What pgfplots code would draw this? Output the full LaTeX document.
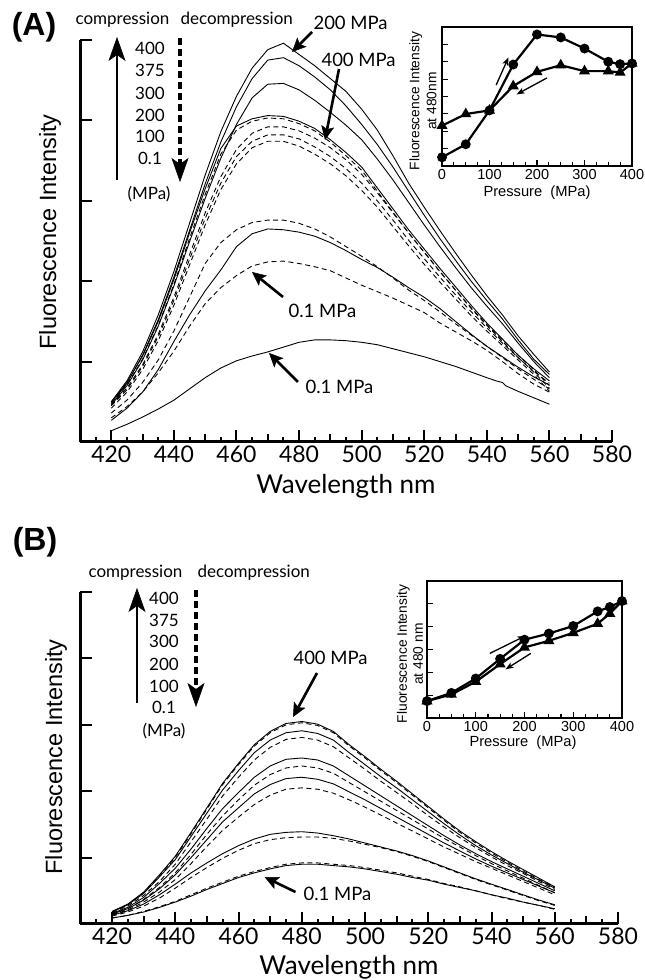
\documentclass[border=0pt]{standalone}
\usepackage{fontspec}
\setmainfont{Lato}
\newfontfamily\hv{Liberation Sans}
\usepackage{pgfplots}
\pgfplotsset{compat=1.18}
\usepackage{pgfplotstable}
\usetikzlibrary{arrows.meta}

\pgfplotstableread{
nm  S1   S2   S3   S4   S5   D1   D2   D3   D4   D5   D6
420 0.50 0.48 0.46 0.50 0.27 0.48 0.46 0.45 0.42 0.36 0.30
425 0.76 0.73 0.70 0.74 0.42 0.71 0.67 0.65 0.62 0.52 0.44
430 1.12 1.08 1.02 1.07 0.62 1.03 0.96 0.94 0.90 0.74 0.62
435 1.58 1.52 1.44 1.50 0.90 1.45 1.34 1.31 1.26 1.02 0.86
440 2.12 2.05 1.94 2.02 1.25 1.96 1.80 1.76 1.70 1.38 1.13
445 2.72 2.63 2.49 2.60 1.58 2.53 2.33 2.27 2.20 1.80 1.44
450 3.32 3.21 3.03 3.15 1.88 3.08 2.85 2.78 2.70 2.22 1.72
455 3.86 3.73 3.53 3.65 2.14 3.58 3.30 3.22 3.14 2.48 1.92
460 4.30 4.17 3.95 3.93 2.43 3.88 3.64 3.55 3.46 2.64 2.07
465 4.65 4.52 4.28 4.02 2.59 3.99 3.84 3.74 3.66 2.73 2.19
470 4.88 4.75 4.45 4.06 2.65 4.03 3.92 3.82 3.74 2.76 2.24
475 4.96 4.78 4.46 4.05 2.64 4.02 3.92 3.82 3.74 2.76 2.25
480 4.82 4.68 4.38 3.99 2.61 3.96 3.87 3.77 3.68 2.72 2.22
485 4.68 4.54 4.25 3.90 2.56 3.87 3.78 3.67 3.58 2.65 2.18
490 4.52 4.38 4.10 3.76 2.48 3.73 3.66 3.55 3.46 2.55 2.13
495 4.36 4.18 3.94 3.60 2.38 3.56 3.51 3.40 3.31 2.43 2.04
500 4.14 3.95 3.76 3.42 2.27 3.38 3.33 3.22 3.13 2.31 1.95
505 3.88 3.70 3.52 3.16 2.17 3.12 3.10 3.00 2.92 2.18 1.87
510 3.56 3.42 3.26 2.90 2.05 2.86 2.85 2.76 2.68 2.04 1.79
515 3.22 3.12 2.98 2.64 1.92 2.60 2.60 2.51 2.44 1.89 1.70
520 2.92 2.82 2.70 2.40 1.80 2.36 2.36 2.28 2.21 1.76 1.61
525 2.63 2.53 2.43 2.16 1.66 2.12 2.12 2.05 1.99 1.62 1.48
530 2.35 2.26 2.17 1.93 1.50 1.89 1.89 1.83 1.78 1.47 1.37
535 2.08 2.00 1.92 1.70 1.34 1.66 1.67 1.62 1.57 1.33 1.26
540 1.82 1.76 1.69 1.48 1.19 1.45 1.46 1.42 1.38 1.19 1.14
545 1.58 1.53 1.47 1.28 1.06 1.25 1.27 1.23 1.20 1.05 1.00
550 1.32 1.27 1.23 1.08 0.93 1.05 1.08 1.05 1.02 0.91 0.85
555 1.09 1.03 1.00 0.91 0.81 0.88 0.90 0.87 0.84 0.78 0.72
560 0.87 0.84 0.80 0.76 0.71 0.73 0.70 0.67 0.63 0.66 0.62
}\tabA

\pgfplotstableread{
nm  S6
420 0.14
425 0.22
430 0.31
435 0.41
440 0.52
445 0.66
450 0.80
455 0.92
460 1.01
465 1.07
470 1.12
475 1.18
480 1.24
485 1.27
490 1.27
495 1.26
500 1.24
505 1.21
510 1.16
515 1.11
520 1.06
525 1.00
530 0.94
535 0.87
540 0.80
543 0.76
545 0.74
546 0.70
550 0.63
555 0.55
560 0.47
}\tabAlow

\pgfplotstableread{
nm  S400 S375 S300 S200 S100 S01  D400 D375 D300 D200 D100 D01
420 0.19 0.18 0.16 0.15 0.13 0.09 0.18 0.17 0.15 0.14 0.12 0.09
425 0.30 0.29 0.25 0.23 0.20 0.13 0.29 0.27 0.23 0.21 0.18 0.13
430 0.48 0.46 0.40 0.36 0.30 0.18 0.47 0.43 0.37 0.33 0.27 0.19
435 0.74 0.71 0.61 0.53 0.44 0.25 0.72 0.64 0.55 0.48 0.39 0.26
440 1.02 0.97 0.84 0.74 0.60 0.33 1.00 0.90 0.77 0.67 0.54 0.34
445 1.38 1.32 1.13 1.00 0.77 0.42 1.36 1.24 1.05 0.91 0.70 0.44
450 1.75 1.67 1.44 1.27 0.92 0.52 1.73 1.58 1.35 1.17 0.85 0.54
455 2.12 2.02 1.74 1.54 1.06 0.61 2.10 1.93 1.63 1.41 0.99 0.63
460 2.42 2.31 1.98 1.75 1.18 0.70 2.40 2.21 1.87 1.61 1.11 0.72
465 2.70 2.58 2.21 1.96 1.28 0.77 2.68 2.47 2.09 1.80 1.21 0.79
470 2.90 2.77 2.38 2.10 1.35 0.83 2.88 2.66 2.25 1.94 1.27 0.85
475 3.02 2.88 2.48 2.19 1.38 0.88 3.00 2.78 2.35 2.03 1.30 0.90
480 3.05 2.91 2.50 2.21 1.39 0.90 3.03 2.81 2.38 2.05 1.31 0.92
485 3.01 2.87 2.47 2.18 1.37 0.90 2.99 2.77 2.35 2.03 1.31 0.92
490 2.90 2.77 2.38 2.11 1.33 0.88 2.88 2.67 2.27 1.97 1.29 0.90
495 2.70 2.58 2.23 1.99 1.28 0.86 2.68 2.50 2.13 1.87 1.25 0.88
500 2.52 2.40 2.08 1.87 1.22 0.83 2.50 2.33 1.99 1.76 1.20 0.85
505 2.33 2.22 1.93 1.74 1.16 0.79 2.31 2.15 1.85 1.64 1.15 0.81
510 2.15 2.05 1.78 1.61 1.10 0.75 2.13 1.98 1.71 1.52 1.09 0.77
515 1.96 1.87 1.63 1.48 1.03 0.70 1.94 1.81 1.57 1.40 1.02 0.72
520 1.77 1.69 1.48 1.35 0.95 0.66 1.75 1.63 1.43 1.28 0.94 0.67
525 1.58 1.51 1.33 1.22 0.86 0.60 1.56 1.46 1.29 1.16 0.85 0.61
530 1.40 1.34 1.19 1.10 0.77 0.55 1.38 1.30 1.16 1.05 0.76 0.56
535 1.24 1.18 1.06 0.98 0.68 0.50 1.22 1.15 1.03 0.94 0.67 0.50
540 1.09 1.04 0.94 0.87 0.60 0.44 1.07 1.01 0.91 0.84 0.59 0.44
545 0.95 0.91 0.83 0.77 0.52 0.39 0.93 0.88 0.80 0.74 0.51 0.38
550 0.82 0.78 0.72 0.67 0.44 0.33 0.80 0.76 0.69 0.64 0.43 0.33
555 0.69 0.66 0.61 0.57 0.36 0.28 0.67 0.64 0.58 0.54 0.35 0.28
560 0.56 0.54 0.50 0.47 0.29 0.23 0.55 0.52 0.47 0.44 0.28 0.22
}\tabB

\pgfplotstableread{
p   circ tri
0   0.50 2.32
50  1.25 2.99
100 3.20 3.20
150 5.84 4.60
200 7.57 5.42
250 7.40 5.80
300 6.76 5.46
350 6.00 5.46
375 5.86 5.38
400 5.90 5.90
}\insA

\pgfplotstableread{
p   circ tri
0   0.74 0.74
50  1.10 1.03
100 1.73 1.59
150 2.59 2.36
200 3.43 3.09
250 3.70 3.38
300 4.03 3.73
350 4.67 4.13
375 4.86 4.57
400 5.12 5.12
}\insB

\pgfplotsset{
  mainax/.style={
    scale only axis, clip=false,
    axis lines*=left,
    xmin=410, xmax=580, ymin=0, ymax=5,
    xtick={420,440,...,580},
    minor xtick={415,425,...,575},
    extra x ticks={430,450,...,570},
    extra x tick labels={},
    extra x tick style={major tick length=8pt},
    ytick={1,2,3,4,5}, yticklabels={},
    tick align=inside,
    major tick length=12pt, minor tick length=5pt,
    axis line style={line width=3pt},
    every tick/.append style={black, line width=2pt},
    xticklabel style={font=\fontsize{23}{26}\selectfont},
    /pgf/number format/assume math mode=true,
    /pgf/number format/1000 sep={},
  },
  inset/.style={
    scale only axis,
    xmin=0, xmax=400,
    xtick={0,100,...,400}, minor x tick num=3,
    xtick pos=left, ytick pos=left,
    yticklabels={},
    tick align=inside,
    major tick length=6pt, minor tick length=4pt,
    axis line style={line width=1.5pt},
    every tick/.append style={black, line width=1.2pt},
    xticklabel style={font=\hv\fontsize{14.5}{17}\selectfont},
    /pgf/number format/assume math mode=true,
  },
  cs/.style={black, line width=0.9pt},
  cd/.style={black, line width=0.9pt, dash pattern=on 5pt off 3.5pt},
}

\begin{document}
\begin{tikzpicture}[x=1pt,y=1pt]

% ---------------- Panel A ----------------
\begin{axis}[mainax, at={(80pt,538pt)}, anchor=south west, width=532pt, height=402pt]
\addplot[cs] table[x=nm,y=S1]{\tabA};
\addplot[cs] table[x=nm,y=S2]{\tabA};
\addplot[cs] table[x=nm,y=S3]{\tabA};
\addplot[cs] table[x=nm,y=S4]{\tabA};
\addplot[cs] table[x=nm,y=S5]{\tabA};
\addplot[cs] table[x=nm,y=S6]{\tabAlow};
\addplot[cd] table[x=nm,y=D1]{\tabA};
\addplot[cd] table[x=nm,y=D2]{\tabA};
\addplot[cd] table[x=nm,y=D3]{\tabA};
\addplot[cd] table[x=nm,y=D4]{\tabA};
\addplot[cd] table[x=nm,y=D5]{\tabA};
\addplot[cd] table[x=nm,y=D6]{\tabA};
\end{axis}

\begin{axis}[inset, at={(442pt,814pt)}, anchor=south west, width=190pt, height=139pt,
  ymin=0, ymax=8, ytick={1,...,7}]
\addplot[black, line width=2.2pt, mark=triangle*, mark size=4.2pt, mark options={solid}] table[x=p,y=tri]{\insA};
\addplot[black, line width=2.2pt, mark=*, mark size=3.8pt, mark options={solid}] table[x=p,y=circ]{\insA};
\draw[line width=1.3pt, -{Stealth[length=8pt,width=6pt,inset=2pt]}] (114,4.66) -- (140,6.25);
\draw[line width=1.3pt, -{Stealth[length=8pt,width=6pt,inset=2pt]}] (221,5.07) -- (157,4.12);
\end{axis}

% ---------------- Panel B ----------------
\begin{axis}[mainax, at={(80.4pt,56pt)}, anchor=south west, width=537.6pt, height=332pt]
\addplot[cs] table[x=nm,y=S400]{\tabB};
\addplot[cs] table[x=nm,y=S375]{\tabB};
\addplot[cs] table[x=nm,y=S300]{\tabB};
\addplot[cs] table[x=nm,y=S200]{\tabB};
\addplot[cs] table[x=nm,y=S100]{\tabB};
\addplot[cs] table[x=nm,y=S01]{\tabB};
\addplot[cd] table[x=nm,y=D400]{\tabB};
\addplot[cd] table[x=nm,y=D375]{\tabB};
\addplot[cd] table[x=nm,y=D300]{\tabB};
\addplot[cd] table[x=nm,y=D200]{\tabB};
\addplot[cd] table[x=nm,y=D100]{\tabB};
\addplot[cd] table[x=nm,y=D01]{\tabB};
\end{axis}

\begin{axis}[inset, at={(427pt,262pt)}, anchor=south west, width=195pt, height=137pt,
  ymin=0, ymax=6, ytick={1,...,5}]
\addplot[black, line width=2.2pt, mark=triangle*, mark size=4.2pt, mark options={solid}] table[x=p,y=tri]{\insB};
\addplot[black, line width=2.2pt, mark=*, mark size=3.8pt, mark options={solid}] table[x=p,y=circ]{\insB};
\draw[line width=1.3pt, -{Stealth[length=8pt,width=6pt,inset=2pt]}] (129,2.83) -- (202,3.6);
\draw[line width=1.3pt, -{Stealth[length=8pt,width=6pt,inset=2pt]}] (213,2.83) -- (161,2.13);
\end{axis}

% ---------------- Annotations A ----------------
\node[font=\hv\bfseries\fontsize{32}{36}\selectfont] at (34,953) {(A)};
\node[anchor=base west, font=\fontsize{17}{20}\selectfont] at (72,955) {compression};
\node[anchor=base west, font=\fontsize{17}{20}\selectfont] at (177,955) {decompression};
\draw[line width=2pt, -{Stealth[length=24pt,width=17pt,inset=6pt,line width=0.5pt]}] (117,800) -- (117,943);
\draw[line width=3.5pt, dash pattern=on 7pt off 4pt, -{Stealth[length=24pt,width=17pt,inset=6pt,line width=0.5pt]}] (180,942) -- (180,798);
\begin{scope}[every node/.style={anchor=base, font=\fontsize{17}{20}\selectfont}]
\node at (150,925) {400};
\node at (150,903) {375};
\node at (150,880) {300};
\node at (150,858) {200};
\node at (150,837) {100};
\node at (150,815) {0.1};
\node at (149,780) {(MPa)};
\end{scope}
\node[anchor=base west, font=\fontsize{18.5}{21}\selectfont] at (310,950) {200 MPa};
\draw[line width=2.6pt, -{Stealth[length=14pt,width=13pt,inset=3pt,line width=0.5pt]}] (312,948) -- (292,928);
\node[anchor=base west, font=\fontsize{18.5}{21}\selectfont] at (318,913) {400 MPa};
\draw[line width=2.6pt, -{Stealth[length=14pt,width=13pt,inset=3pt,line width=0.5pt]}] (339,911) -- (325,840);
\node[anchor=base west, font=\fontsize{18.5}{21}\selectfont] at (285,662) {0.1 MPa};
\draw[line width=2.6pt, -{Stealth[length=14pt,width=13pt,inset=3pt,line width=0.5pt]}] (283,683) -- (252,708);
\node[anchor=base west, font=\fontsize{18.5}{21}\selectfont] at (302,586) {0.1 MPa};
\draw[line width=2.6pt, -{Stealth[length=14pt,width=13pt,inset=3pt,line width=0.5pt]}] (298,598) -- (269,627);
\node[rotate=90, font=\hv\fontsize{23.5}{26}\selectfont] at (50,748) {Fluorescence Intensity};
\node[font=\fontsize{26}{30}\selectfont] at (346,494) {Wavelength nm};
\node[rotate=90, align=center, font=\hv\fontsize{13.8}{17}\selectfont] at (423,879) {Fluorescence Intensity\\at 480nm};
\node[font=\hv\fontsize{14.7}{17}\selectfont] at (537,787) {Pressure\ \ (MPa)};

% ---------------- Annotations B ----------------
\node[font=\hv\bfseries\fontsize{32}{36}\selectfont] at (35,438) {(B)};
\node[anchor=base west, font=\fontsize{17}{20}\selectfont] at (85,402) {compression};
\node[anchor=base west, font=\fontsize{17}{20}\selectfont] at (194,402) {decompression};
\draw[line width=2pt, -{Stealth[length=24pt,width=17pt,inset=6pt,line width=0.5pt]}] (137,277) -- (137,392);
\draw[line width=3.5pt, dash pattern=on 7pt off 4pt, -{Stealth[length=24pt,width=17pt,inset=6pt,line width=0.5pt]}] (196,390) -- (196,273);
\begin{scope}[every node/.style={anchor=base, font=\fontsize{17}{20}\selectfont}]
\node at (164,375) {400};
\node at (164,353) {375};
\node at (164,332) {300};
\node at (164,309) {200};
\node at (164,287) {100};
\node at (164,266) {0.1};
\node at (164,243) {(MPa)};
\end{scope}
\node[anchor=base west, font=\fontsize{18.5}{21}\selectfont] at (290,315) {400 MPa};
\draw[line width=2.6pt, -{Stealth[length=14pt,width=13pt,inset=3pt,line width=0.5pt]}] (317,307) -- (293,263);
\node[anchor=base west, font=\fontsize{18.5}{21}\selectfont] at (300,79) {0.1 MPa};
\draw[line width=2.6pt, -{Stealth[length=14pt,width=13pt,inset=3pt,line width=0.5pt]}] (295.5,88) -- (264.6,103);
\node[rotate=90, font=\hv\fontsize{23.5}{26}\selectfont] at (56,223) {Fluorescence Intensity};
\node[font=\fontsize{26}{30}\selectfont] at (349,13) {Wavelength nm};
\node[rotate=90, align=center, font=\hv\fontsize{13.8}{16}\selectfont] at (410,326) {Fluorescence Intensity\\at 480 nm};
\node[font=\hv\fontsize{14.7}{17}\selectfont] at (523,237) {Pressure\ \ (MPa)};

\pgfresetboundingbox
\path[use as bounding box] (0,0) rectangle (645,980);
\end{tikzpicture}
\end{document}
